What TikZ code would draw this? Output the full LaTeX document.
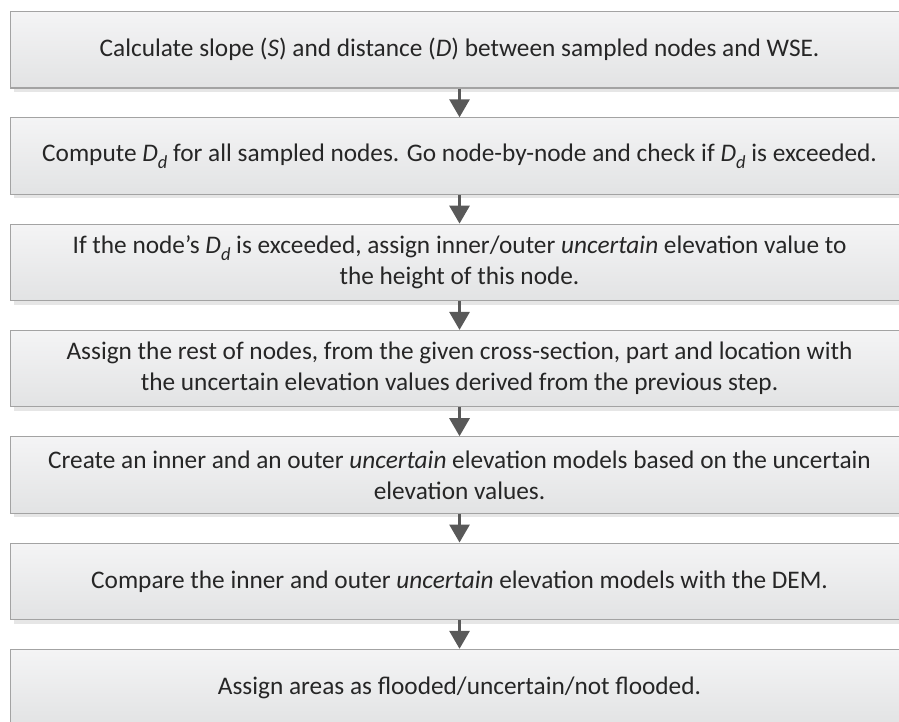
\documentclass[tikz,border=0pt]{standalone}
\usepackage{fontspec}
\setmainfont{Carlito}
\usetikzlibrary{arrows.meta,positioning,shadows}
\definecolor{boxtop}{HTML}{F4F4F5}
\definecolor{boxbottom}{HTML}{E2E3E4}
\definecolor{boxborder}{HTML}{A3A3A3}
\definecolor{shadowgray}{HTML}{E6E6E6}
\definecolor{arrowgray}{HTML}{595959}
\definecolor{bodytext}{HTML}{262626}
\newcommand{\Dsub}{\textit{D}\raisebox{-0.55ex}{\fontsize{10.5}{12}\selectfont\textit{d}}}

\begin{document}
\begin{tikzpicture}[
    stepbox/.style={draw=boxborder, line width=0.6pt, top color=boxtop, bottom color=boxbottom,
        minimum width=17.96cm, minimum height=1.53cm, inner sep=0pt, align=center,
        font=\fontsize{14.4}{17.6}\selectfont, text=bodytext,
        drop shadow={shadow xshift=0.06cm, shadow yshift=-0.08cm, fill=shadowgray, opacity=1}},
    flow/.style={-{Triangle[length=0.36cm, width=0.4cm]}, line width=0.06cm, arrowgray}
]
    % Page frame (last box runs off the bottom and right)
    \useasboundingbox (0,0) rectangle (17.98,-14.44);

    % Steps
    \node[stepbox, anchor=north west] (calc) at (0.2,-0.22)
        {Calculate slope (\textit{S}) and distance (\textit{D}) between sampled nodes and WSE.};
    \node[stepbox, below=0.575cm of calc] (compute)
        {Compute \Dsub{} for all sampled nodes. Go node-by-node and check if \Dsub{} is exceeded.};
    \node[stepbox, below=0.575cm of compute] (exceed)
        {If the node’s \Dsub{} is exceeded, assign inner/outer \textit{uncertain} elevation value to\\the height of this node.};
    \node[stepbox, below=0.575cm of exceed] (rest)
        {Assign the rest of nodes, from the given cross-section, part and location with\\the uncertain elevation values derived from the previous step.};
    \node[stepbox, below=0.575cm of rest] (models)
        {Create an inner and an outer \textit{uncertain} elevation models based on the uncertain\\elevation values.};
    \node[stepbox, below=0.575cm of models] (compare)
        {Compare the inner and outer \textit{uncertain} elevation models with the DEM.};
    \node[stepbox, below=0.575cm of compare] (assign)
        {Assign areas as flooded/uncertain/not flooded.};

    % Arrows
    \draw[flow] (calc) -- (compute);
    \draw[flow] (compute) -- (exceed);
    \draw[flow] (exceed) -- (rest);
    \draw[flow] (rest) -- (models);
    \draw[flow] (models) -- (compare);
    \draw[flow] (compare) -- (assign);
\end{tikzpicture}
\end{document}
